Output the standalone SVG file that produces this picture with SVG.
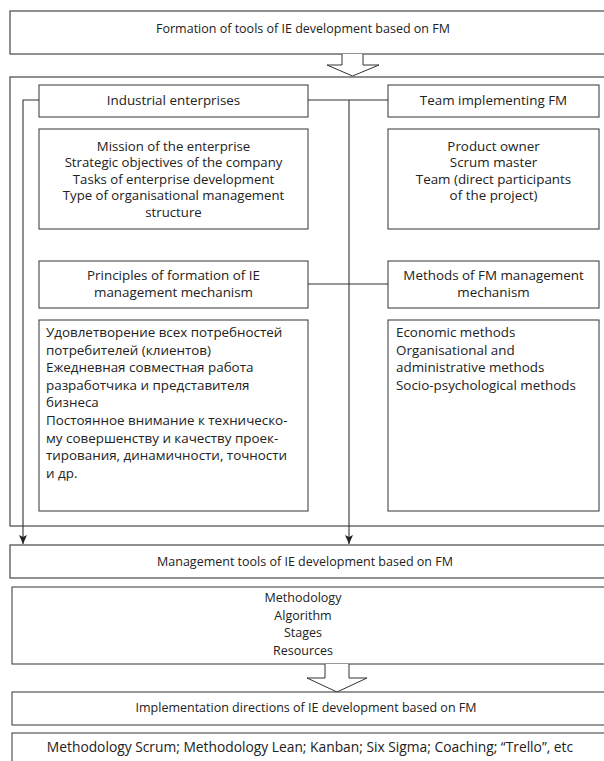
<svg xmlns="http://www.w3.org/2000/svg" width="604" height="761" viewBox="0 0 604 761">
<defs>
<style>
.t{font-family:"Open Sans","Noto Sans","DejaVu Sans",sans-serif;font-size:12.5px;fill:#222;}
.i{font-size:13.4px;}
.c{text-anchor:middle;}
.box{fill:#fff;stroke:#333;stroke-width:1;}
.outer{fill:#fff;stroke:#555;stroke-width:1.3;}
.ln{fill:none;stroke:#333;stroke-width:1.1;}
.hollow{fill:#fff;stroke:#333;stroke-width:1;}
</style>
<marker id="ah" markerWidth="10" markerHeight="10" refX="9" refY="5" orient="auto" markerUnits="userSpaceOnUse">
<path d="M0,1 L9,5 L0,9 L2,5 Z" fill="#222"/>
</marker>
</defs>
<rect width="604" height="761" fill="#fff"/>

<g id="formation">
<rect class="outer" x="10" y="11" width="600" height="43"/>
<text class="t c" x="303" y="33">Formation of tools of IE development based on FM</text>
</g>

<g id="arrow1">
<path class="hollow" d="M342,54 L342,65 L327,65 L352.5,76 L379,65 L363,65 L363,54"/>
</g>

<g id="container">
<rect class="outer" x="10" y="77" width="600" height="449"/>
</g>

<g id="industrial">
<rect class="box" x="39" y="85" width="269" height="32"/>
<text class="t i c" x="173.5" y="105">Industrial enterprises</text>
</g>

<g id="team">
<rect class="box" x="388" y="85" width="211" height="32"/>
<text class="t i c" x="493.5" y="105">Team implementing FM</text>
</g>

<g id="mission">
<rect class="box" x="39" y="129" width="269" height="100"/>
<text class="t i c" x="173.5" y="150.5" style="font-size:13.2px">Mission of the enterprise</text>
<text class="t i c" x="173.5" y="167.1" style="font-size:13.2px">Strategic objectives of the company</text>
<text class="t i c" x="173.5" y="183.7" style="font-size:13.2px">Tasks of enterprise development</text>
<text class="t i c" x="173.5" y="200.3" style="font-size:13.2px">Type of organisational management</text>
<text class="t i c" x="173.5" y="216.9" style="font-size:13.2px">structure</text>
</g>

<g id="product">
<rect class="box" x="388" y="129" width="211" height="100"/>
<text class="t i c" x="493.5" y="150.5">Product owner</text>
<text class="t i c" x="493.5" y="167.1">Scrum master</text>
<text class="t i c" x="493.5" y="183.7">Team (direct participants</text>
<text class="t i c" x="493.5" y="200.3">of the project)</text>
</g>

<g id="principles">
<rect class="box" x="39" y="261" width="269" height="47"/>
<text class="t i c" x="173.5" y="280">Principles of formation of IE</text>
<text class="t i c" x="173.5" y="297">management mechanism</text>
</g>

<g id="methods">
<rect class="box" x="388" y="261" width="211" height="47"/>
<text class="t i c" x="493.5" y="280">Methods of FM management</text>
<text class="t i c" x="493.5" y="297">mechanism</text>
</g>

<g id="principles-list">
<rect class="box" x="39" y="320" width="269" height="191"/>
<text class="t i" x="46" y="337">Удовлетворение всех потребностей</text>
<text class="t i" x="46" y="354.6">потребителей (клиентов)</text>
<text class="t i" x="46" y="372.2">Ежедневная совместная работа</text>
<text class="t i" x="46" y="389.8">разработчика и представителя</text>
<text class="t i" x="46" y="407.4">бизнеса</text>
<text class="t i" x="46" y="425">Постоянное внимание к техническо-</text>
<text class="t i" x="46" y="442.6">му совершенству и качеству проек-</text>
<text class="t i" x="46" y="460.2">тирования, динамичности, точности</text>
<text class="t i" x="46" y="477.8">и др.</text>
</g>

<g id="methods-list">
<rect class="box" x="388" y="320" width="211" height="191"/>
<text class="t i" x="396" y="337">Economic methods</text>
<text class="t i" x="396" y="354.6">Organisational and</text>
<text class="t i" x="396" y="372.2">administrative methods</text>
<text class="t i" x="396" y="389.8">Socio-psychological methods</text>
</g>

<g id="management">
<rect class="outer" x="10" y="545" width="600" height="33"/>
<text class="t c" x="305" y="566">Management tools of IE development based on FM</text>
</g>

<g id="methodology">
<rect class="box" x="12" y="587" width="598" height="77"/>
<text class="t c" x="303" y="602">Methodology</text>
<text class="t c" x="303" y="619.6">Algorithm</text>
<text class="t c" x="303" y="637.2">Stages</text>
<text class="t c" x="303" y="654.8">Resources</text>
</g>

<g id="arrow2">
<path class="hollow" d="M325,664 L325,678 L307,678 L337,692 L367,678 L349,678 L349,664"/>
</g>

<g id="implementation">
<rect class="box" x="12" y="692" width="598" height="33"/>
<text class="t c" x="306" y="712">Implementation directions of IE development based on FM</text>
</g>

<g id="tools-list">
<rect class="box" x="12" y="733" width="598" height="40"/>
<text class="t c" x="310" y="752" style="font-size:13.8px">Methodology Scrum; Methodology Lean; Kanban; Six Sigma; Coaching; “Trello”, etc</text>
</g>

<g id="connectors">
<line class="ln" x1="308" y1="100" x2="388" y2="100"/>
<line class="ln" x1="308" y1="284" x2="388" y2="284"/>
<line class="ln" x1="349" y1="100" x2="349" y2="544" marker-end="url(#ah)"/>
<polyline class="ln" points="39,100 23,100 23,544" marker-end="url(#ah)"/>
</g>
</svg>
